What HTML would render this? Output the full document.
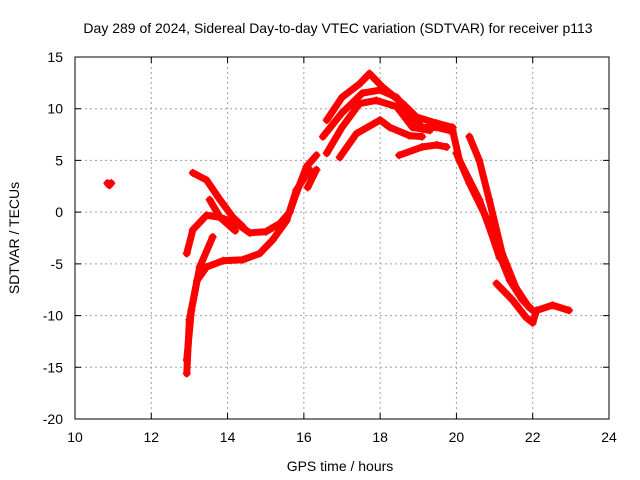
<!DOCTYPE html>
<html><head><meta charset="utf-8"><style>
html,body{margin:0;padding:0;background:#fff;}
svg{display:block;font-family:"Liberation Sans",sans-serif;}
</style></head><body>
<svg id="chart" width="640" height="480" viewBox="0 0 640 480" xmlns="http://www.w3.org/2000/svg">
<rect width="640" height="480" fill="#fff"/>
<g id="grid"></g>
<g id="tracks"></g>
<rect x="75" y="57" width="534" height="362" fill="none" stroke="#000" stroke-width="1"/>
<g id="ticks"></g>
<text x="338" y="33" font-size="14" text-anchor="middle">Day 289 of 2024, Sidereal Day-to-day VTEC variation (SDTVAR) for receiver p113</text>
<text x="340" y="471" font-size="14" text-anchor="middle">GPS time / hours</text>
<text transform="translate(19,238) rotate(-90)" font-size="14" text-anchor="middle">SDTVAR / TECUs</text>
</svg>
<script>
const xTicks=[10,12,14,16,18,20,22,24];
const yTicks=[15,10,5,0,-5,-10,-15,-20];
const trackNames=['isolated','b','c','c2','d','e','f','g','h','i','j','k','l','m','n','o'];
const trackHours=[
[10.85,10.9,10.95],
[12.93,13.09,13.45,13.8,14.24,14.58,15.0,15.37,15.63,15.8,16.07,16.33],
[13.09,13.45,13.8,14.14,14.4],
[13.53,13.8,14.2],
[12.93,13.0,13.2,13.45,13.88,14.4,14.84,15.18,15.55,15.8,16.15],
[12.93,13.05,13.27,13.61],
[16.1,16.33],
[16.6,17.0,17.46,17.72,18.06,18.59,18.95,19.48,19.9],
[16.5,17.0,17.53,18.0,18.43,18.85,19.1,19.48,19.82],
[16.6,17.0,17.46,17.9,18.43,18.85,19.3],
[16.94,17.38,18.0,18.25,18.77,19.1],
[18.5,19.1,19.48,19.74],
[19.9,20.08,20.6,21.05,21.4,21.73,22.0],
[20.34,20.6,20.86,21.2,21.56,21.9],
[20.0,20.34,20.78,21.13],
[21.05,21.47,21.83,22.0,22.1,22.52,22.95]
];
const trackValues=[
[2.8,2.6,2.8],
[-4.0,-1.7,-0.3,-0.5,-1.1,-2.0,-1.9,-1.1,0,1.8,4.4,5.5],
[3.8,3.1,1.2,-0.5,-1.4],
[1.2,-0.5,-1.8],
[-15.6,-10.4,-6.6,-5.3,-4.7,-4.6,-4.0,-2.7,-0.8,2.1,4.1],
[-14.3,-9.5,-5.3,-2.4],
[2.4,4.1],
[8.9,11.1,12.4,13.4,12.1,10.5,9.2,8.6,8.2],
[7.3,9.6,11.5,11.8,11.1,9.2,8.2,8.2,7.9],
[5.7,8.2,10.5,10.8,10.2,8.2,7.9],
[5.3,7.6,8.9,8.2,7.4,7.3],
[5.5,6.3,6.5,6.3],
[7.9,5.0,1.2,-3.4,-6.6,-8.5,-9.5],
[7.3,5.0,1.2,-4.0,-7.3,-9.2],
[5.7,2.8,-0.5,-4.4],
[-6.9,-8.5,-10.2,-10.7,-9.5,-9.0,-9.5]
];
const X0=75,X1=609,Y0=57,Y1=419,xmin=10,xmax=24,ymin=-20,ymax=15;
function sx(v){return X0+(v-xmin)/(xmax-xmin)*(X1-X0);}
function sy(v){return Y1-(v-ymin)/(ymax-ymin)*(Y1-Y0);}
const NS='http://www.w3.org/2000/svg';
const grid=document.getElementById('grid'),ticks=document.getElementById('ticks'),tracks=document.getElementById('tracks');
function mk(tag,attrs,parent){const e=document.createElementNS(NS,tag);for(const k in attrs)e.setAttribute(k,attrs[k]);parent.appendChild(e);return e;}
xTicks.forEach(t=>{
  const x=sx(t);
  if(t>xmin&&t<xmax){const g=mk('line',{x1:x,x2:x,y1:Y0,y2:Y1,stroke:'#a0a0a0','stroke-dasharray':'2,3'},grid);
  
  }
  const tl=mk('path',{d:`M${x},${Y1}v-6M${x},${Y0}v6`,stroke:'#000'},ticks);
  
  
  const lb=mk('text',{x:x,y:Y1+23,'font-size':14,'text-anchor':'middle'},ticks);
  lb.textContent=t;
  
  
});
yTicks.forEach(t=>{
  const y=sy(t);
  if(t>ymin&&t<ymax){const g=mk('line',{x1:X0,x2:X1,y1:y,y2:y,stroke:'#a0a0a0','stroke-dasharray':'2,3'},grid);
  
  }
  const tl=mk('path',{d:`M${X0},${y}h6M${X1},${y}h-6`,stroke:'#000'},ticks);
  
  
  const lb=mk('text',{x:X0-12,y:y+5,'font-size':14,'text-anchor':'end'},ticks);
  lb.textContent=t;
  
  
});
trackHours.forEach((hs,i)=>{
  const vs=trackValues[i];
  const g=mk('g',{},tracks);
  
  
  const pts=hs.map((h,j)=>sx(h)+','+sy(vs[j])).join(' ');
  const pl=mk('polyline',{points:pts,fill:'none',stroke:'#f00','stroke-width':7,'stroke-linejoin':'round','stroke-linecap':'round'},g);
  
  
  hs.forEach((h,j)=>{
    const x=sx(h),y=sy(vs[j]);
    const m=mk('path',{d:`M${x-4},${y}h8M${x},${y-4}v8`,stroke:'#f00','stroke-width':1.5},g);
    
    
  });
});
</script>
</body></html>
